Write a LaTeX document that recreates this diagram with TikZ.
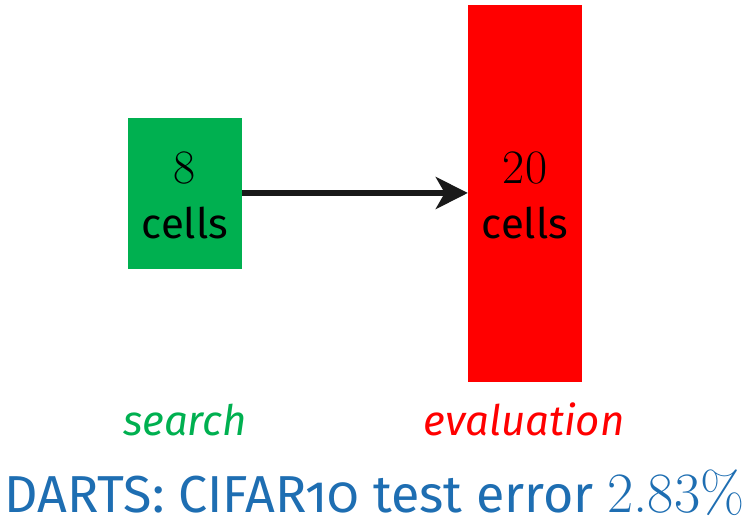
\documentclass[tikz,border=0pt]{standalone}
\usepackage{fontspec}
\setmainfont[Numbers=OldStyle]{Fira Sans}
\newfontfamily\lmnum{Latin Modern Roman}
\usetikzlibrary{arrows.meta}
\definecolor{boxgreen}{RGB}{0,176,80}
\definecolor{boxred}{RGB}{255,0,0}
\definecolor{titleblue}{RGB}{30,110,178}
\definecolor{arrowdark}{RGB}{25,25,25}
\tikzset{
  cellbox/.style={draw=none, inner sep=0pt, minimum width=114pt},
  numtxt/.style={anchor=base, font=\fontsize{48}{52}\selectfont\lmnum, text=black},
  celltxt/.style={anchor=base, font=\fontsize{42}{46}\selectfont, text=black},
  phase/.style={anchor=base, font=\fontsize{42}{46}\selectfont\itshape},
  conn/.style={line width=6pt, draw=arrowdark, -{Stealth[length=32pt,width=32pt,inset=9pt]}}
}
\begin{document}
\begin{tikzpicture}[x=1pt,y=1pt]
\useasboundingbox (0,0) rectangle (750,521);
\node[cellbox, fill=boxgreen, minimum height=151pt] (s) at (185,327.5) {};
\node[cellbox, fill=boxred, minimum height=377pt] (e) at (525,327.5) {};
\node[numtxt] (s8) at (185,337) {8};
\node[celltxt] (sc) at (185,282) {cells};
\node[numtxt] (e20) at (525,337) {20};
\node[celltxt] (ec) at (525,282) {cells};
\draw[conn] (s.east |- 0,328) -- (e.west |- 0,328);
\node[phase, text=boxgreen] (lab1) at (185,85) {search};
\node[phase, text=boxred] (lab2) at (524,85) {evaluation};
\node[anchor=base, inner sep=0pt, font=\fontsize{52}{56}\selectfont, text=titleblue] (title) at (374.5,8) {DARTS: CIFAR10 test error {\fontsize{57}{60}\selectfont\lmnum 2.83\%}};
\end{tikzpicture}
\end{document}
